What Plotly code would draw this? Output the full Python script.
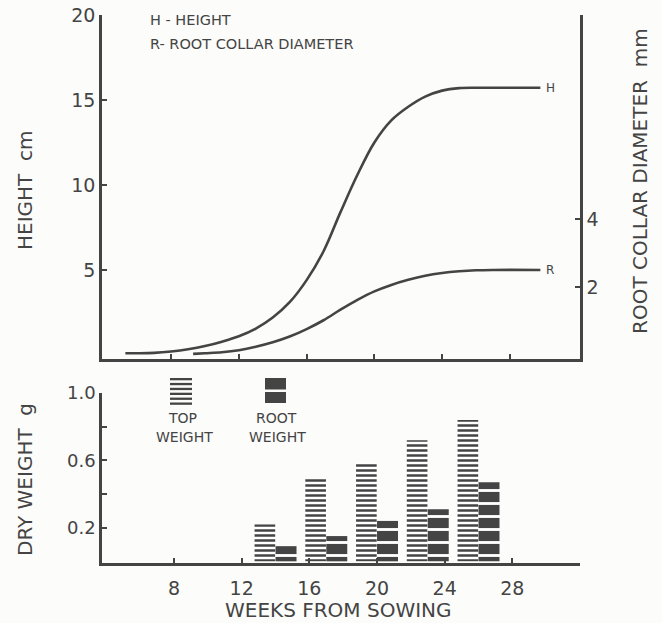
import plotly.graph_objects as go

# ---- data ----
h_weeks = [5.3, 6, 7, 8, 9, 10, 11, 12, 13, 14, 15, 16, 17, 18, 19, 20, 21, 22, 23, 24, 25, 26, 27, 29.8]
h_cm = [0.1, 0.1, 0.12, 0.2, 0.33, 0.52, 0.78, 1.1, 1.55, 2.2, 3.1, 4.4, 6.1, 8.4, 10.6, 12.5, 13.8, 14.6, 15.2, 15.55, 15.7, 15.72, 15.72, 15.72]
r_weeks = [9.3, 10, 11, 12, 13, 14, 15, 16, 17, 18, 19, 20, 21, 22, 23, 24, 25, 26, 27, 29.8]
r_mm = [0.03, 0.05, 0.08, 0.14, 0.24, 0.37, 0.54, 0.76, 1.02, 1.33, 1.62, 1.87, 2.06, 2.21, 2.33, 2.41, 2.46, 2.49, 2.5, 2.5]
bar_weeks = [14, 17, 20, 23, 26]
top_weight = [0.22, 0.49, 0.59, 0.72, 0.84]
root_weight = [0.09, 0.15, 0.24, 0.31, 0.47]
x_ticks = [8, 12, 16, 20, 24, 28]

INK = "#444444"
BG = "#fcfcfa"
FONT = "DejaVu Sans"

W, H = 662, 623
PL, PR, PT, PB = 102, 580, 15, 563


def px(x):
    return (x - PL) / (PR - PL)


def py(y):
    return (PB - y) / (PB - PT)


fig = go.Figure()

# growth curves
fig.add_trace(go.Scatter(x=h_weeks, y=h_cm, mode="lines", xaxis="x", yaxis="y",
                         line=dict(color=INK, width=2.6, shape="spline", smoothing=1),
                         showlegend=False, hoverinfo="skip"))
fig.add_trace(go.Scatter(x=r_weeks, y=r_mm, mode="lines", xaxis="x", yaxis="y2",
                         line=dict(color=INK, width=2.6, shape="spline", smoothing=1),
                         showlegend=False, hoverinfo="skip"))

# dry weight bars
fig.add_trace(go.Bar(x=bar_weeks, y=top_weight, xaxis="x2", yaxis="y3",
                     offset=-1.24, width=1.22,
                     marker=dict(color="white", line=dict(width=0),
                                 pattern=dict(shape="-", size=5, solidity=0.5,
                                              fgcolor=INK, bgcolor="white")),
                     showlegend=False, hoverinfo="skip"))
fig.add_trace(go.Bar(x=bar_weeks, y=root_weight, xaxis="x2", yaxis="y3",
                     offset=0.0, width=1.24,
                     marker=dict(color=INK, line=dict(width=0),
                                 pattern=dict(shape="-", size=13, solidity=0.22,
                                              fgcolor="white", bgcolor=INK)),
                     showlegend=False, hoverinfo="skip"))

axis_common = dict(showgrid=False, zeroline=False, showline=True, linecolor=INK, linewidth=2.6,
                   ticks="inside", tickcolor=INK, tickwidth=2.2, ticklen=5, automargin=False,
                   tickfont=dict(family=FONT, size=19, color=INK))

top_dom = [py(359), 1.0]
bot_dom = [0.0, py(393)]

fig.update_layout(
    template="none",
    width=W, height=H,
    margin=dict(l=PL, r=W - PR, t=PT, b=H - PB, autoexpand=False),
    paper_bgcolor=BG, plot_bgcolor=BG,
    barmode="overlay",
    xaxis=dict(axis_common, domain=[0, 1], range=[3.92, 32.14], anchor="y",
               tickvals=x_ticks, showticklabels=False),
    yaxis=dict(axis_common, domain=top_dom, range=[-0.24, 20], anchor="x",
               tickvals=[5, 10, 15, 20]),
    yaxis2=dict(axis_common, domain=top_dom, range=[-0.12, 10], anchor="x",
                overlaying="y", side="right", tickvals=[2, 4]),
    xaxis2=dict(axis_common, domain=[0, 1], range=[3.74, 32.0], anchor="y3",
                tickvals=x_ticks, ticklabelstandoff=6),
    yaxis3=dict(axis_common, domain=bot_dom, range=[-0.01, 1.0], anchor="x2",
                tickvals=[0.2, 0.4, 0.6, 0.8, 1.0],
                ticktext=["0.2", "", "0.6", "", "1.0"],
                tickfont=dict(family=FONT, size=18, color=INK)),
)

ann = []


def text(x, y, s, size, xanchor="center", angle=0):
    ann.append(dict(x=x, y=y, xref="paper", yref="paper", text=s, showarrow=False,
                    xanchor=xanchor, yanchor="middle", textangle=angle,
                    font=dict(family=FONT, size=size, color=INK)))


text(px(148), py(20), "H - HEIGHT", 14.5, xanchor="left")
text(px(148), py(44), "R- ROOT COLLAR DIAMETER", 14.5, xanchor="left")
text(px(25), py(190), "HEIGHT  cm", 20, angle=-90)
text(px(640), py(181), "ROOT COLLAR DIAMETER  mm", 20, angle=-90)
text(px(25), py(480), "DRY WEIGHT  g", 20, angle=-90)
text(px(338), py(610), "WEEKS FROM SOWING", 20)
text(px(544), py(88), "H", 12, xanchor="left")
text(px(544), py(270), "R", 12, xanchor="left")
text(px(182), py(418), "TOP", 14)
text(px(184), py(437), "WEIGHT", 14)
text(px(276), py(418), "ROOT", 14)
text(px(277), py(437), "WEIGHT", 14)
fig.update_layout(annotations=ann)

# legend swatches
shapes = []
for i in range(6):
    y0 = 378 + i * 4.9
    shapes.append(dict(type="rect", xref="paper", yref="paper",
                       x0=px(170), x1=px(192), y0=py(y0 + 2.3), y1=py(y0),
                       fillcolor=INK, line=dict(width=0)))
for (a, b) in [(378, 389.5), (392, 403)]:
    shapes.append(dict(type="rect", xref="paper", yref="paper",
                       x0=px(265), x1=px(286), y0=py(b), y1=py(a),
                       fillcolor=INK, line=dict(width=0)))
fig.update_layout(shapes=shapes)

fig.write_html("out.html", config={"displayModeBar": False},
               post_script="document.body.style.margin='0';document.body.style.overflow='hidden';")
